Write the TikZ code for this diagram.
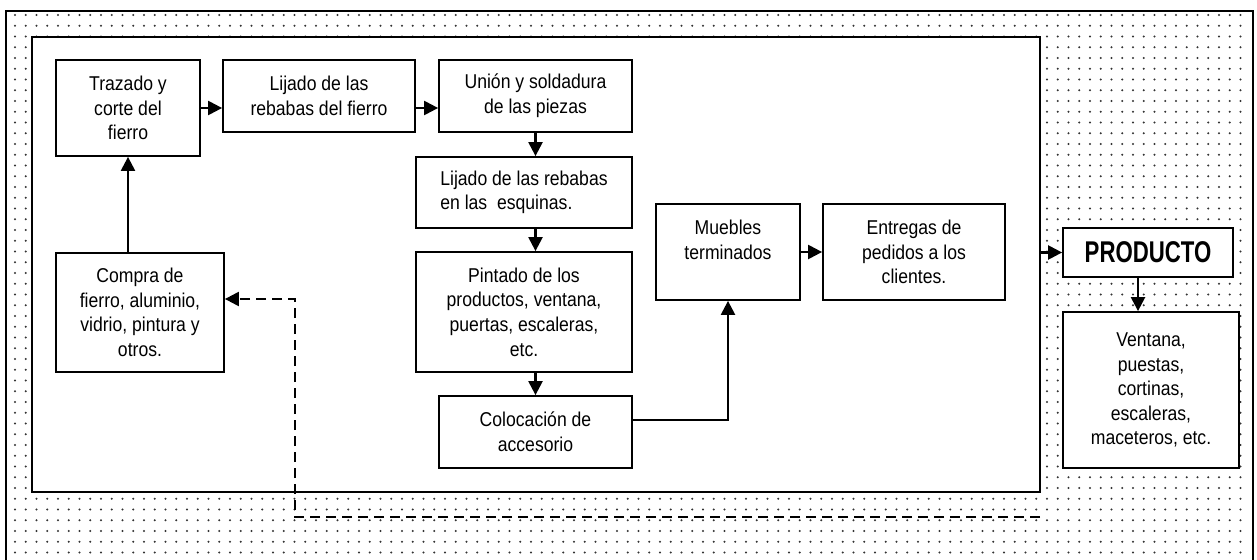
\documentclass[tikz,border=0pt]{standalone}
\usepackage{fontspec}
\setmainfont{Liberation Sans}[FakeStretch=0.88]
\newfontfamily\prodfont{Liberation Sans}[FakeStretch=0.74]
\usetikzlibrary{arrows.meta}
\begin{document}
\begin{tikzpicture}[x=1pt,y=-1pt,
  box/.style={draw, line width=1.8pt, fill=white, align=center, inner sep=0pt,
    font=\fontsize{20}{24.6}\selectfont},
  frame/.style={draw, line width=2.2pt, fill=white, inner sep=0pt},
  arr/.style={line width=2.3pt, -{Triangle[length=14pt,width=14pt]}},
  darr/.style={line width=2.2pt, dash pattern=on 10pt off 6pt, -{Triangle[length=14pt,width=14pt]}},
  dotc/.style={fill=black!80}]
\useasboundingbox (0,0) rectangle (1257,559);
% outer dotted area
\fill[white] (6,11) rectangle (1253,570);
\foreach \i in {0,...,114}{
  \foreach \j in {0,...,51}{
    \fill[dotc] (15+10.75*\i,15+10.75*\j) circle (1.15);
  }
}
\draw[line width=2.2pt] (6,570) -- (6,11) -- (1253,11) -- (1253,570);
% inner frame
\node[frame, minimum width=1008pt, minimum height=455pt] (frame) at (536,264.5) {};
% boxes
\node[box, minimum width=144pt, minimum height=96pt] (traz) at (128,108) {Trazado y\\corte del\\fierro};
\node[box, minimum width=192pt, minimum height=72pt] (lij1) at (319,96) {Lijado de las\\rebabas del fierro};
\node[box, minimum width=193pt, minimum height=72pt] (union) at (535.5,96) {Unión y soldadura\\de las piezas};
\node[box, minimum width=216pt, minimum height=71pt, align=left] (lije) at (524,192.5) {Lijado de las rebabas\\en las\ \ esquinas.};
\node[box, minimum width=216pt, minimum height=120pt] (pint) at (524,312) {Pintado de los\\productos, ventana,\\puertas, escaleras,\\etc.};
\node[box, minimum width=193pt, minimum height=72pt] (coloc) at (535.5,432) {Colocación de\\accesorio};
\node[box, minimum width=144pt, minimum height=96pt] (mueb) at (728,252) {Muebles\\terminados\\\mbox{}};
\node[box, minimum width=182pt, minimum height=96pt] (entr) at (914,252) {Entregas de\\pedidos a los\\clientes.};
\node[box, minimum width=168pt, minimum height=119pt] (compra) at (140,312.5) {Compra de\\fierro, aluminio,\\vidrio, pintura y\\otros.};
\node[box, minimum width=170pt, minimum height=49pt, font=\prodfont\bfseries\fontsize{30}{34}\selectfont] (prod) at (1148,252.5) {PRODUCTO};
\node[box, minimum width=176pt, minimum height=156pt] (vent) at (1151,390) {Ventana,\\puestas,\\cortinas,\\escaleras,\\maceteros, etc.};
% connectors
\draw[arr] (traz.east) -- (traz.east -| lij1.west);
\draw[arr] (lij1.east |- traz.east) -- (traz.east -| union.west);
\draw[arr] (union.south) -- (union.south |- lije.north);
\draw[arr] (union.south |- lije.south) -- (union.south |- pint.north);
\draw[arr] (union.south |- pint.south) -- (coloc.north);
\draw[arr] ([yshift=12pt]coloc.east) -| (mueb.south);
\draw[arr] (mueb.east) -- (entr.west);
\draw[arr] (frame.east |- prod.west) -- (prod.west);
\draw[arr] ([xshift=-10pt]prod.south) -- ([xshift=-10pt]prod.south |- vent.north);
\draw[arr] (traz.south |- compra.north) -- (traz.south);
\coordinate (dend) at (1040,517);
\coordinate (dturn) at (295,517);
\draw[darr] (dend) -- (dturn) |- ([yshift=13.5pt]compra.east);
\end{tikzpicture}
\end{document}
